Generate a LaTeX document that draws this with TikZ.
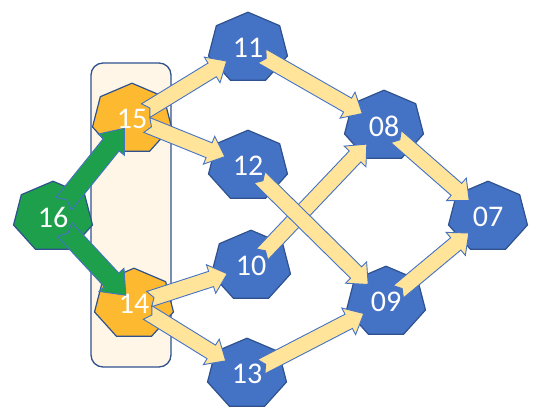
\documentclass[tikz,border=0pt]{standalone}
\usepackage{fontspec}
\setsansfont{Carlito}
\usetikzlibrary{calc}

\definecolor{nodeblue}{HTML}{4472C4}
\definecolor{edgeblue}{HTML}{2F528F}
\definecolor{nodegold}{HTML}{FDB92F}
\definecolor{nodegreen}{HTML}{1E9F4B}
\definecolor{arrowfill}{HTML}{FFE49A}
\definecolor{boxfill}{HTML}{FFF6E7}

% block arrow geometry
\newcommand{\tailgap}{16pt}
\newcommand{\tipgap}{25pt}
\newcommand{\notch}{5pt}
\newcommand{\shaft}{8pt}
\newcommand{\headw}{15pt}
\newcommand{\headl}{17pt}

% stretched heptagon with a number inside
\newcommand{\hepnode}[4]{% name, position, style, number
  \draw[#3] ($(#2)+(-90:40.5 and 35.8)$)
    \foreach \k in {1,...,6} { -- ($(#2)+({-90+\k*360/7}:40.5 and 35.8)$) } -- cycle;
  \node[numtext] (#1) at (#2) {#4};
}

% notched block arrow from one node to another
\newcommand{\fatarrow}[3][yarrow]{%
  \coordinate (ta) at ($(#2)!\tailgap!(#3)$);
  \coordinate (tb) at ($(#3)!\tipgap!(#2)$);
  \coordinate (hb) at ($(tb)!\headl!(ta)$);
  \draw[#1] ($(ta)!\shaft!90:(tb)$) -- ($(hb)!\shaft!90:(tb)$)
    -- ($(hb)!\headw!90:(tb)$) -- (tb) -- ($(hb)!\headw!-90:(tb)$)
    -- ($(hb)!\shaft!-90:(tb)$) -- ($(ta)!\shaft!-90:(tb)$)
    -- ($(ta)!\notch!(tb)$) -- cycle;
}

\tikzset{
  numtext/.style={text=white, font=\sffamily\fontsize{30}{32}\selectfont, inner sep=0pt},
  bluehep/.style={fill=nodeblue, draw=edgeblue, line width=1.2pt},
  goldhep/.style={fill=nodegold, draw=edgeblue, line width=1.2pt},
  greenhep/.style={fill=nodegreen, draw=edgeblue, line width=1.2pt},
  yarrow/.style={fill=arrowfill, draw=nodeblue, line width=0.9pt},
  garrow/.style={fill=nodegreen, draw=nodeblue, line width=0.9pt},
}

\begin{document}
\begin{tikzpicture}[x=1pt, y=-1pt]
  \useasboundingbox (0,0) rectangle (534,418);

  % group box behind 15 and 14
  \draw[draw=edgeblue, fill=boxfill, line width=1.3pt, rounded corners=12pt]
      (91,63) rectangle (171,367);

  % nodes
  \hepnode{n16}{53,217}{greenhep}{16}
  \hepnode{n15}{132,119}{goldhep}{15}
  \hepnode{n14}{134,304}{goldhep}{14}
  \hepnode{n11}{248,48}{bluehep}{11}
  \hepnode{n12}{248,166}{bluehep}{12}
  \hepnode{n10}{251,266}{bluehep}{10}
  \hepnode{n13}{247,374}{bluehep}{13}
  \hepnode{n08}{384,126}{bluehep}{08}
  \hepnode{n09}{386,302}{bluehep}{09}
  \hepnode{n07}{488,217}{bluehep}{07}

  % yellow block arrows
  \fatarrow{n15}{n11}
  \fatarrow{n15}{n12}
  \fatarrow{n14}{n10}
  \fatarrow{n14}{n13}
  \fatarrow{n11}{n08}
  \fatarrow{n10}{n08}
  \fatarrow{n12}{n09}
  \fatarrow{n13}{n09}
  \fatarrow{n08}{n07}
  \fatarrow{n09}{n07}

  % green block arrows out of 16
  \renewcommand{\tailgap}{17pt}
  \renewcommand{\tipgap}{12pt}
  \renewcommand{\shaft}{10pt}
  \renewcommand{\headw}{17pt}
  \renewcommand{\headl}{21pt}
  \fatarrow[garrow]{n16}{n15}
  \fatarrow[garrow]{n16}{n14}
\end{tikzpicture}
\end{document}
